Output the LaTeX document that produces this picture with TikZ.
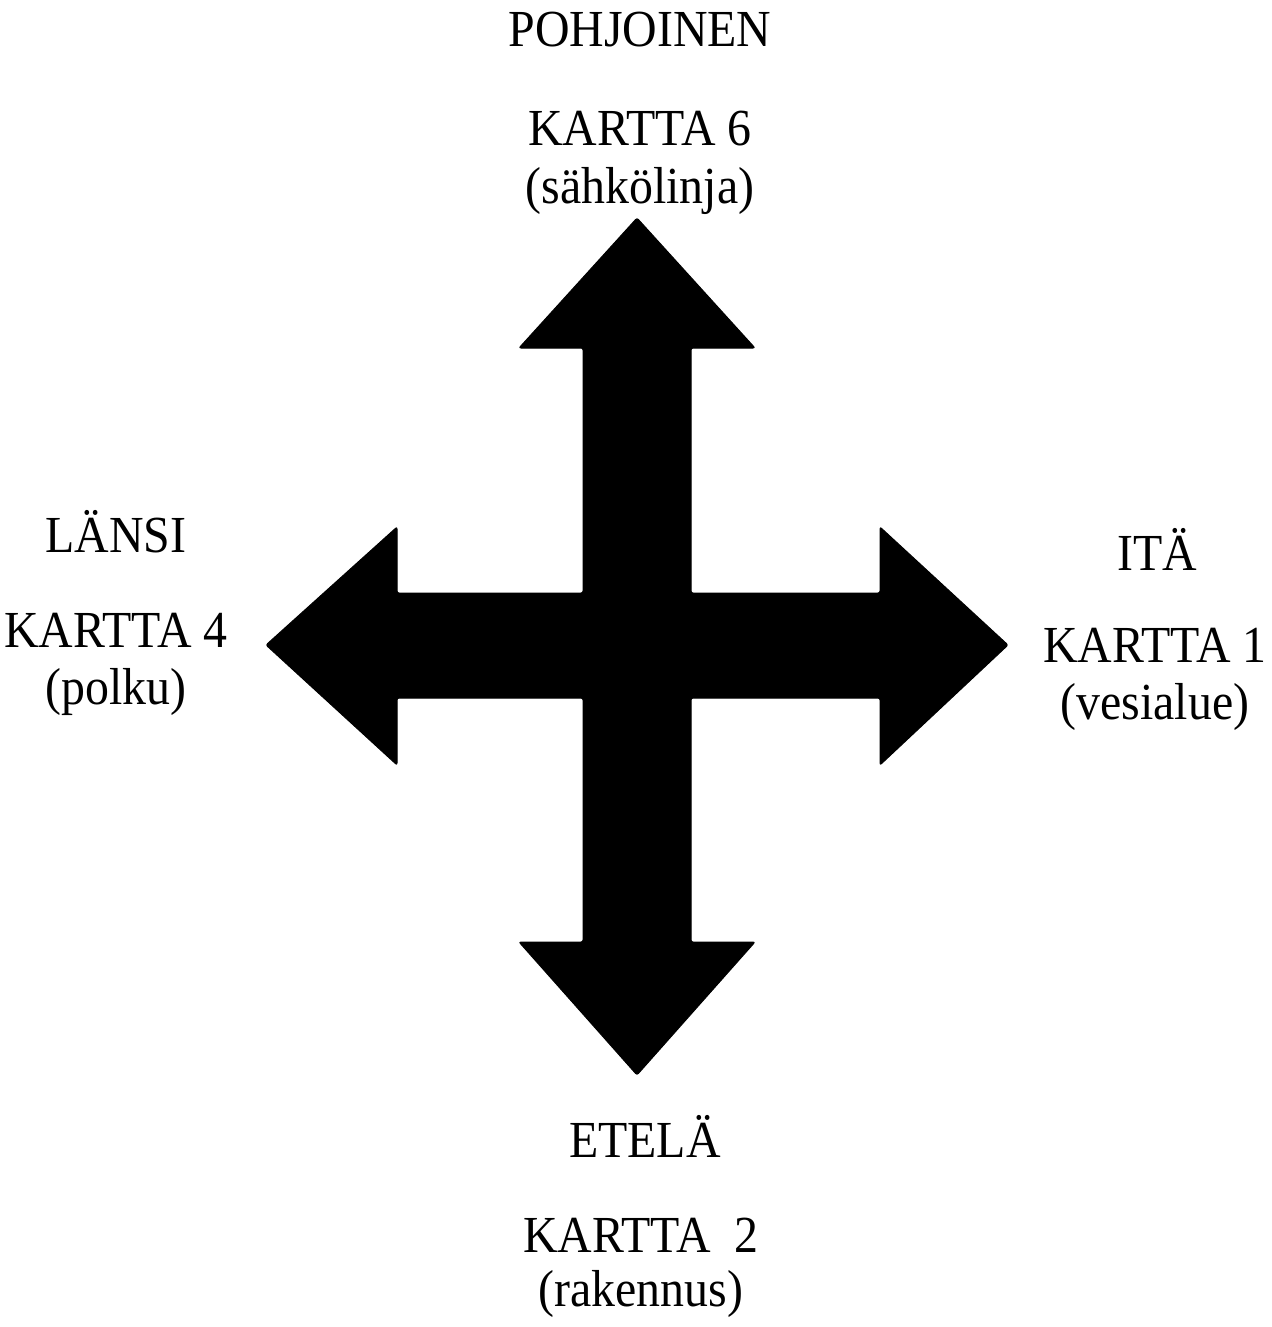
\documentclass[tikz,border=0pt]{standalone}
\usepackage{fontspec}
\setmainfont[FakeStretch=0.92]{Liberation Serif}
\begin{document}
\begin{tikzpicture}[x=1pt,y=-1pt,
  lbl/.style={anchor=base,inner sep=0pt,font=\fontsize{52}{60}\selectfont},
  cross/.style={fill=black,draw=black,line width=1pt,rounded corners=2pt}]
\useasboundingbox (0,0) rectangle (1271,1327);
\draw[cross] (637,218) -- (755,348) -- (691,348) -- (691,593) -- (880,593) -- (880,527)
  -- (1008,645) -- (880,765) -- (880,698) -- (691,698) -- (691,942) -- (755,942)
  -- (637,1075) -- (519,942) -- (583,942) -- (583,698) -- (397,698) -- (397,765)
  -- (266,645) -- (397,527) -- (397,593) -- (583,593) -- (583,348) -- (519,348) -- cycle;
\node[lbl] (n1) at (640,47) {POHJOINEN};
\node[lbl] (n2) at (640,146) {KARTTA 6};
\node[lbl] (n3) at (640,203) {(sähkölinja)};
\node[lbl] (w1) at (116,552) {LÄNSI};
\node[lbl] (w2) at (116,647) {KARTTA 4};
\node[lbl] (w3) at (116,704) {(polku)};
\node[lbl] (e1) at (1157,570) {ITÄ};
\node[lbl] (e2) at (1155,662) {KARTTA 1};
\node[lbl] (e3) at (1155,719) {(vesialue)};
\node[lbl] (s1) at (645,1157) {ETELÄ};
\node[lbl] (s2) at (641,1252) {KARTTA\ \ 2};
\node[lbl] (s3) at (641,1306) {(rakennus)};
\end{tikzpicture}
\end{document}
